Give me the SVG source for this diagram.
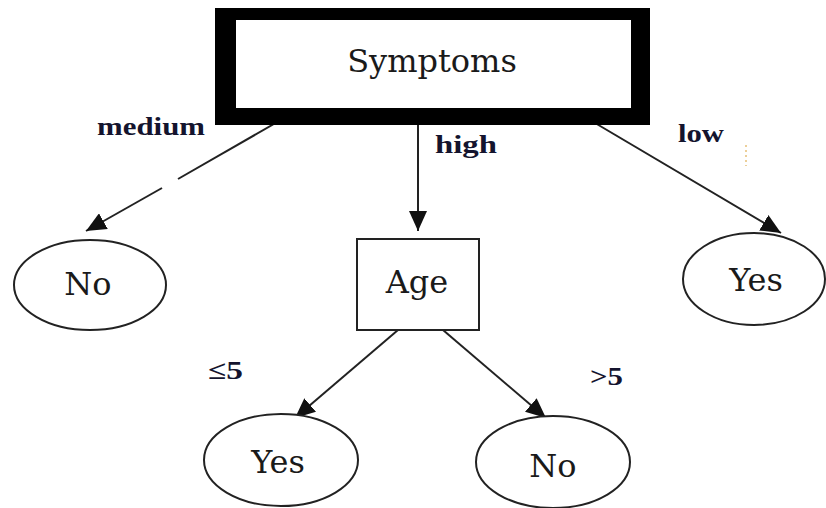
<svg xmlns="http://www.w3.org/2000/svg" width="826" height="508" viewBox="0 0 826 508">
<style>
.node{fill:#fff;stroke:#222;stroke-width:2}
.nt{font-family:"DejaVu Serif","Liberation Serif",serif;font-size:32px;fill:#1a1a1a;text-anchor:middle}
.lbl{font-family:"Liberation Serif","Times New Roman",serif;font-weight:bold;font-size:26px;fill:#14142e}
.edge{stroke:#222;stroke-width:2;fill:none}
</style>
<defs>
<marker id="ah" viewBox="0 0 20 18" refX="20" refY="9" markerWidth="20" markerHeight="18" markerUnits="userSpaceOnUse" orient="auto">
<path d="M0,0 L20,9 L0,18 Z" fill="#111"/>
</marker>
</defs>
<rect width="826" height="508" fill="#fff"/>
<g id="connectors">
<line class="edge" x1="293" y1="113" x2="178" y2="179"/>
<line class="edge" x1="162" y1="188" x2="86" y2="231" marker-end="url(#ah)"/>
<line class="edge" x1="418" y1="125" x2="418" y2="231" marker-end="url(#ah)"/>
<line class="edge" x1="590" y1="120" x2="781" y2="233" marker-end="url(#ah)"/>
<line class="edge" x1="398" y1="330" x2="295" y2="418" marker-end="url(#ah)"/>
<line class="edge" x1="443" y1="330" x2="546" y2="418" marker-end="url(#ah)"/>
</g>
<g id="symptoms">
<rect x="215" y="8" width="435" height="117" fill="#000"/>
<rect x="236" y="20" width="395" height="88" fill="#fff"/>
<text class="nt" x="432" y="72">Symptoms</text>
</g>
<g id="age">
<rect class="node" x="357" y="239" width="122" height="91"/>
<text class="nt" x="417" y="293">Age</text>
</g>
<g id="no-left">
<ellipse class="node" cx="90" cy="285" rx="76" ry="45"/>
<text class="nt" x="88" y="295">No</text>
</g>
<g id="yes-right">
<ellipse class="node" cx="754" cy="279" rx="71" ry="46"/>
<text class="nt" x="756" y="291">Yes</text>
</g>
<g id="yes-bottom">
<ellipse class="node" cx="281" cy="460" rx="77" ry="46"/>
<text class="nt" x="278" y="473">Yes</text>
</g>
<g id="no-bottom">
<ellipse class="node" cx="553" cy="462" rx="77" ry="46"/>
<text class="nt" x="553" y="477">No</text>
</g>
<g id="labels">
<text class="lbl" x="97" y="135" textLength="108" lengthAdjust="spacingAndGlyphs">medium</text>
<text class="lbl" x="435" y="153" textLength="62" lengthAdjust="spacingAndGlyphs">high</text>
<text class="lbl" x="678" y="142" textLength="46" lengthAdjust="spacingAndGlyphs">low</text>
<text class="lbl" x="208" y="379" textLength="35" lengthAdjust="spacingAndGlyphs">≤5</text>
<text class="lbl" x="590" y="385" textLength="33" lengthAdjust="spacingAndGlyphs">&gt;5</text>
</g>
<line x1="746" y1="145" x2="746" y2="166" stroke="#e6c078" stroke-width="1.5" stroke-dasharray="2,3"/>
</svg>
